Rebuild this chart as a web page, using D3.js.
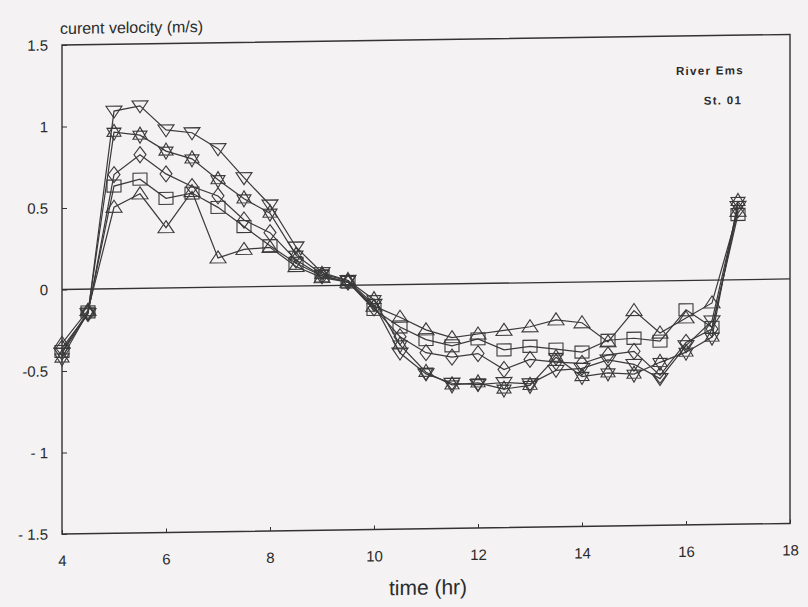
<!DOCTYPE html>
<html>
<head>
<meta charset="utf-8">
<script src="https://cdn.jsdelivr.net/npm/d3@7"></script>
<style>
  body { margin: 0; background: #f4f2f2; }
  svg { display: block; }
  text { font-family: "Liberation Sans", Arial, sans-serif; fill: #2b2b2b; }
</style>
</head>
<body>
<svg id="chart" width="808" height="607"></svg>
<script>
(function () {

// sampling times (hr)
var times = [4, 4.5, 5, 5.5, 6, 6.5, 7, 7.5, 8, 8.5, 9, 9.5, 10, 10.5, 11, 11.5, 12, 12.5, 13, 13.5, 14, 14.5, 15, 15.5, 16, 16.5, 17];

// current velocity (m/s), one array per depth series
var invTriangle = [-0.39, -0.15, 1.09, 1.12, 0.97, 0.95, 0.85, 0.67, 0.50, 0.24, 0.08, 0.03, -0.12, -0.42, -0.55, -0.61, -0.62, -0.61, -0.62, -0.54, -0.53, -0.48, -0.51, -0.60, -0.40, -0.25, 0.45];
var star        = [-0.42, -0.14, 0.96, 0.94, 0.84, 0.79, 0.66, 0.54, 0.45, 0.19, 0.07, 0.03, -0.09, -0.37, -0.54, -0.62, -0.61, -0.65, -0.63, -0.46, -0.58, -0.56, -0.57, -0.50, -0.44, -0.35, 0.48];
var diamond     = [-0.36, -0.15, 0.70, 0.82, 0.70, 0.62, 0.56, 0.41, 0.33, 0.16, 0.06, 0.02, -0.14, -0.32, -0.42, -0.45, -0.43, -0.53, -0.47, -0.49, -0.50, -0.45, -0.43, -0.58, -0.38, -0.30, 0.43];
var square      = [-0.38, -0.14, 0.63, 0.67, 0.55, 0.58, 0.49, 0.37, 0.25, 0.14, 0.06, 0.02, -0.15, -0.26, -0.34, -0.38, -0.34, -0.41, -0.39, -0.41, -0.43, -0.36, -0.35, -0.37, -0.18, -0.29, 0.40];
var triangle    = [-0.33, -0.13, 0.50, 0.58, 0.37, 0.59, 0.18, 0.23, 0.24, 0.12, 0.05, 0.02, -0.13, -0.20, -0.28, -0.33, -0.31, -0.29, -0.27, -0.23, -0.25, -0.37, -0.18, -0.32, -0.23, -0.14, 0.42];

var xTicks = [4, 6, 8, 10, 12, 14, 16, 18];
var yTicks = [1.5, 1, 0.5, 0, -0.5, -1, -1.5];
var yTickLabels = ["1.5", "1", "0.5", "0", "-0.5", "- 1", "- 1.5"];

var series = [
	{ name: "invTriangle", values: invTriangle, shape: "invTriangle" },
	{ name: "star", values: star, shape: "star" },
	{ name: "diamond", values: diamond, shape: "diamond" },
	{ name: "square", values: square, shape: "square" },
	{ name: "triangle", values: triangle, shape: "triangle" }
];

var left = 62, right = 790, top = 45, bottom = 534;
var ink = "#333";

var x = d3.scaleLinear().domain([4, 18]).range([left, right]);
var y = d3.scaleLinear().domain([-1.5, 1.5]).range([bottom, top]);

var svg = d3.select('#chart');

// the scanned page is slightly tilted: right side sits higher
var tilt = 0.0145;
var g = svg.append('g')
	.attr('transform', 'translate(0,' + (left * tilt) + ') skewY(' + (-Math.atan(tilt) * 180 / Math.PI) + ')');

// frame
g.append('rect')
	.attr('x', left).attr('y', top)
	.attr('width', right - left).attr('height', bottom - top)
	.attr('fill', 'none').attr('stroke', ink).attr('stroke-width', 1.4);

// zero line
g.append('line')
	.attr('x1', left).attr('x2', right)
	.attr('y1', y(0)).attr('y2', y(0))
	.attr('stroke', ink).attr('stroke-width', 1.3);

// y axis: inward ticks, labels on the left
var yAxis = d3.axisRight(y).tickValues(yTicks).tickSize(5).tickFormat(function (d, i) { return yTickLabels[i]; });
var yg = g.append('g').attr('transform', 'translate(' + left + ',0)').call(yAxis);
yg.select('.domain').remove();
yg.selectAll('.tick line').attr('stroke', ink);
yg.selectAll('.tick text')
	.attr('x', -14).attr('text-anchor', 'end')
	.attr('font-size', 15).attr('fill', '#2b2b2b');

// x axis: small inward ticks, labels below
var xAxis = d3.axisTop(x).tickValues(xTicks).tickSize(4).tickFormat(d3.format('d'));
var xg = g.append('g').attr('transform', 'translate(0,' + bottom + ')').call(xAxis);
xg.select('.domain').remove();
xg.selectAll('.tick line').attr('stroke', ink);
xg.selectAll('.tick text')
	.attr('y', 32).attr('dy', 0)
	.attr('font-size', 15).attr('fill', '#2b2b2b');

// marker shapes
function markerPath(shape) {
	switch (shape) {
	case "triangle":    return "M0,-7L8,5L-8,5Z";
	case "invTriangle": return "M-8,-5L8,-5L0,7Z";
	case "diamond":     return "M0,-8L6,0L0,8L-6,0Z";
	case "square":      return "M-7,-6L7,-6L7,6L-7,6Z";
	case "star":        return "M0,-8L7,4L-7,4Z M0,8L7,-4L-7,-4Z";
	}
}

var line = d3.line()
	.x(function (d) { return x(d.t); })
	.y(function (d) { return y(d.v); });

var groups = g.selectAll('.series').data(series).enter().append('g').attr('class', 'series');

groups.append('path')
	.attr('d', function (s) {
		return line(s.values.map(function (v, i) { return { t: times[i], v: v }; }));
	})
	.attr('fill', 'none').attr('stroke', '#3a3a3a').attr('stroke-width', 1.2);

groups.selectAll('.mark')
	.data(function (s) { return s.values.map(function (v, i) { return { t: times[i], v: v, shape: s.shape }; }); })
	.enter().append('path')
	.attr('class', 'mark')
	.attr('transform', function (d) { return 'translate(' + x(d.t) + ',' + y(d.v) + ')'; })
	.attr('d', function (d) { return markerPath(d.shape); })
	.attr('fill', 'none').attr('stroke', '#3a3a3a').attr('stroke-width', 1.1);

// titles and annotations
g.append('text')
	.attr('x', 60).attr('y', 34)
	.attr('font-size', 16)
	.text('curent velocity (m/s)');

g.append('text')
	.attr('x', 428).attr('y', 600)
	.attr('text-anchor', 'middle')
	.attr('font-size', 21)
	.text('time (hr)');

g.append('text')
	.attr('x', 710).attr('y', 84)
	.attr('text-anchor', 'middle')
	.attr('font-size', 11.5).attr('font-weight', 'bold')
	.attr('letter-spacing', 1.3)
	.text('River Ems');

g.append('text')
	.attr('x', 723).attr('y', 114)
	.attr('text-anchor', 'middle')
	.attr('font-size', 11.5).attr('font-weight', 'bold')
	.attr('letter-spacing', 1.3)
	.text('St. 01');

})();
</script>
</body>
</html>
